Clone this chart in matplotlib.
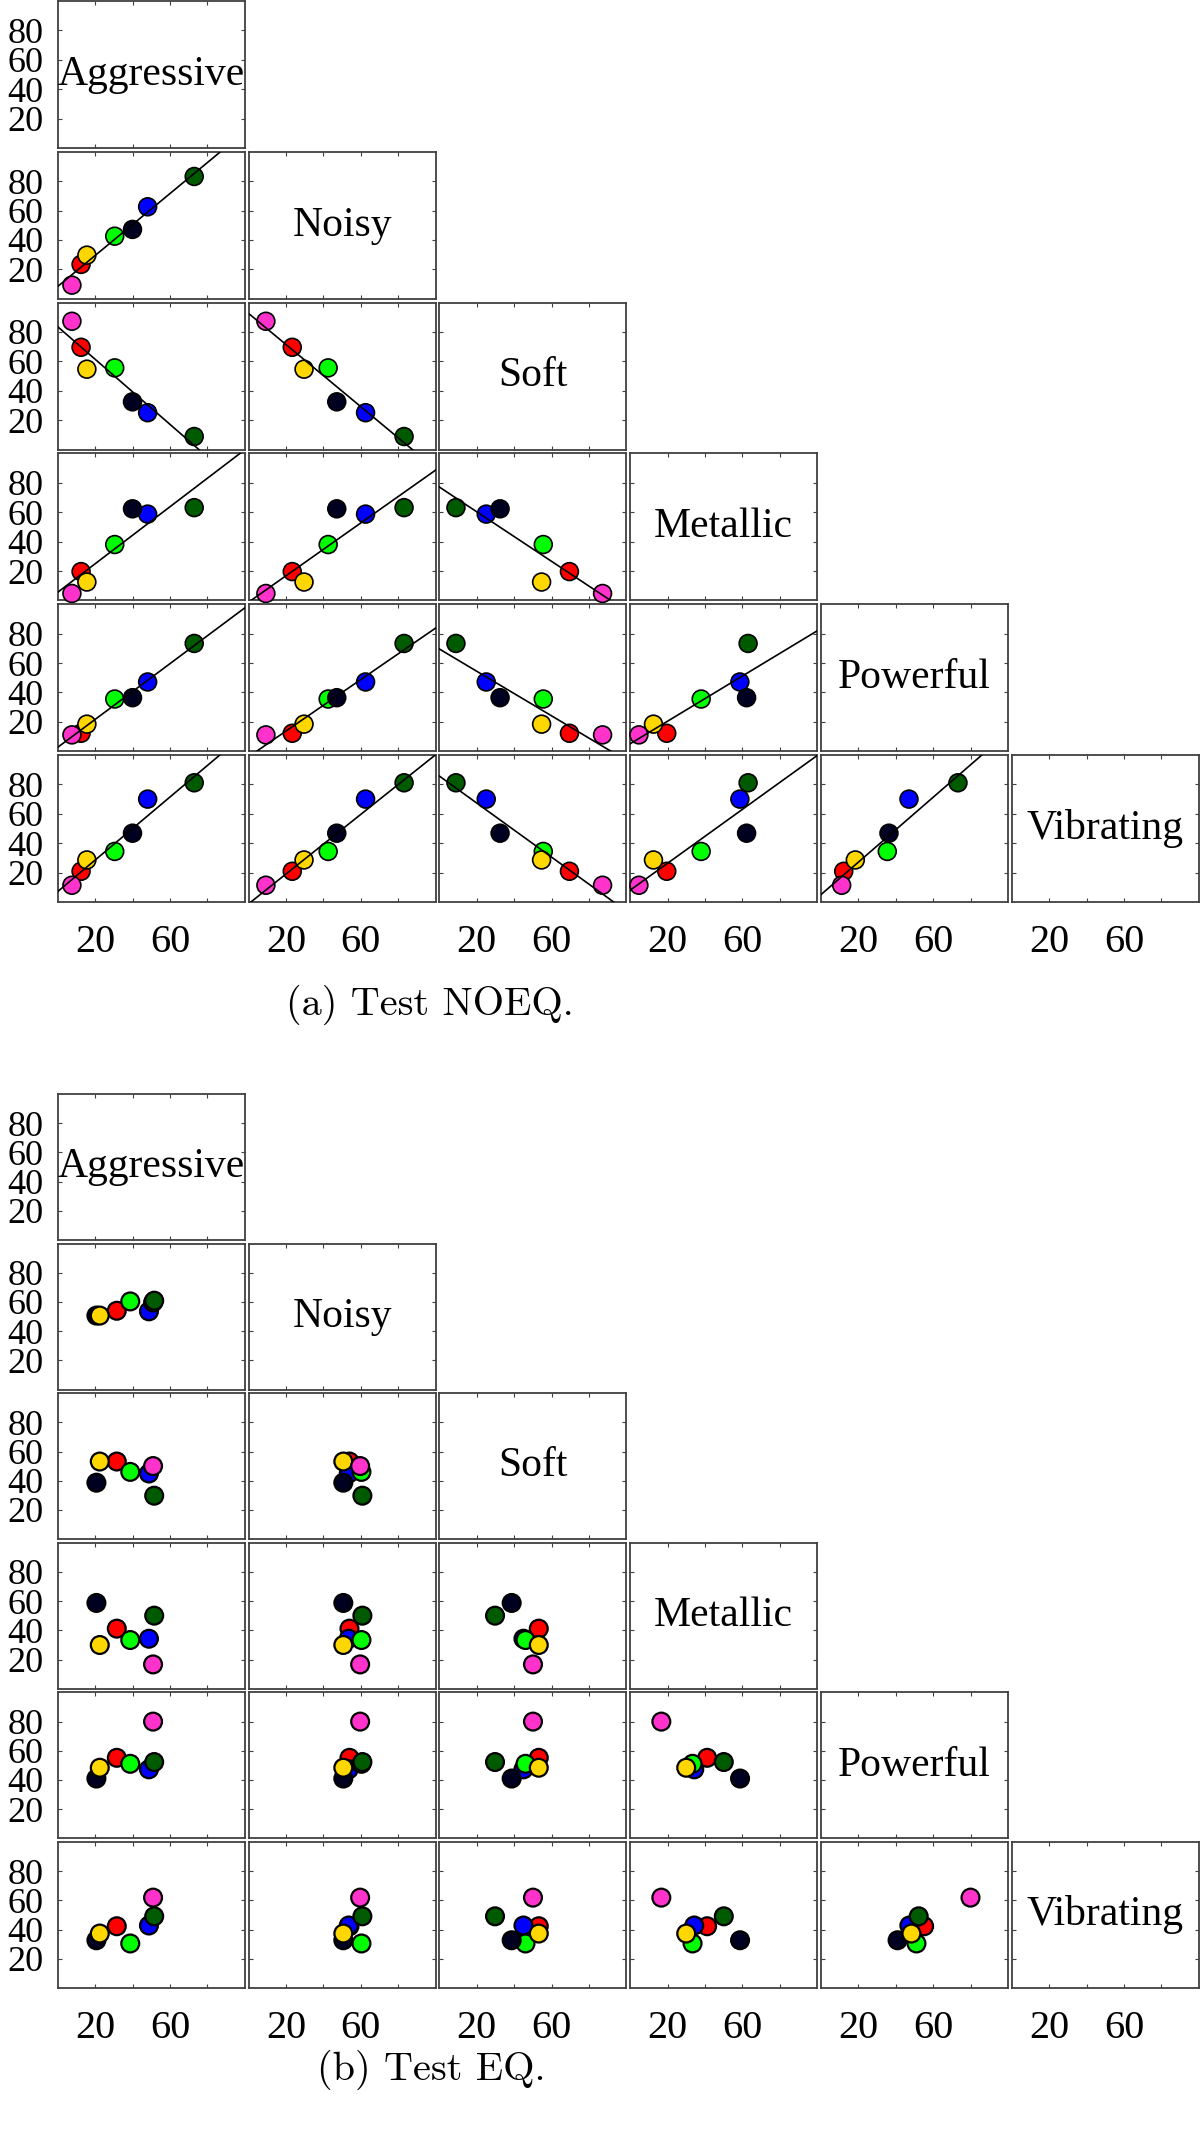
import numpy as np
import matplotlib.pyplot as plt

# attribute names (diagonal of the scatter matrix)
attributes = ['Aggressive', 'Noisy', 'Soft', 'Metallic', 'Powerful', 'Vibrating']

# one point per sample, listed in drawing order
point_colors = ['#ff0000', '#0000ff', '#00ff00', '#000020', '#ffd700', '#ff33cc', '#005a00']

# Test NOEQ ratings
noeq_aggressive = [12.5, 48.1, 30.5, 40.0, 15.6, 7.6, 73.0]
noeq_noisy = [23.4, 62.6, 42.6, 47.2, 29.7, 9.3, 83.2]
noeq_soft = [69.6, 25.1, 55.6, 32.5, 54.7, 87.3, 8.9]
noeq_metallic = [19.6, 58.7, 38.0, 62.3, 12.5, 4.7, 63.1]
noeq_powerful = [12.2, 47.1, 35.5, 36.4, 18.4, 11.1, 73.3]
noeq_vibrating = [20.9, 70.0, 34.4, 46.8, 28.6, 11.4, 81.1]

# Test EQ ratings
eq_aggressive = [31.6, 48.8, 38.8, 20.7, 22.5, 51.0, 51.6]
eq_noisy = [54.0, 53.6, 60.4, 50.7, 50.7, 59.7, 60.9]
eq_soft = [53.2, 45.0, 46.1, 38.7, 53.2, 50.1, 29.8]
eq_metallic = [41.2, 34.3, 33.4, 58.8, 30.0, 16.7, 50.1]
eq_powerful = [55.2, 47.3, 51.1, 41.0, 48.4, 80.0, 52.3]
eq_vibrating = [42.3, 42.8, 30.5, 32.7, 37.3, 61.9, 49.1]

tick_values = [20, 40, 60, 80]
x_tick_labels = ['20', '', '60', '']
y_tick_labels = ['20', '40', '60', '80']

W, H = 1200, 2135
fig = plt.figure(figsize=(W / 100, H / 100), dpi=100)

serif = 'Liberation Serif'
frame_color = '#404040'


def draw_matrix(data, top_px, row_step, height_px, edge_lw, fit_line):
    n = len(attributes)
    for i in range(n):
        for j in range(i + 1):
            left = 57.7 + j * 190.8
            top = top_px + i * row_step
            ax = fig.add_axes([left / W, 1 - (top + height_px) / H, 187 / W, height_px / H])
            ax.set_xlim(0, 100)
            ax.set_ylim(0, 100)
            ax.set_xticks(tick_values)
            ax.set_yticks(tick_values)
            ax.tick_params(direction='in', length=3, width=0.8, color=frame_color,
                           top=True, right=True)
            ax.tick_params(axis='y', pad=10)
            ax.tick_params(axis='x', pad=16)
            for sp in ax.spines.values():
                sp.set_color(frame_color)
                sp.set_linewidth(1.3)

            if j == 0:
                ax.set_yticklabels(y_tick_labels, fontsize=26, family=serif)
            else:
                ax.set_yticklabels([])
            if i == n - 1:
                ax.set_xticklabels(x_tick_labels, fontsize=29, family=serif)
            else:
                ax.set_xticklabels([])

            if i == j:
                ax.text(0.5, 0.5, attributes[i], transform=ax.transAxes,
                        ha='center', va='center', fontsize=30, family=serif)
                continue

            xs = np.array(data[attributes[j]])
            ys = np.array(data[attributes[i]])
            ax.scatter(xs, ys, s=165, c=point_colors, edgecolors='black',
                       linewidths=edge_lw, zorder=3, clip_on=False)
            if fit_line:
                slope, intercept = np.polyfit(xs, ys, 1)
                xl = np.array([0, 100])
                ax.plot(xl, slope * xl + intercept, color='black', lw=1.2, zorder=4)


noeq = dict(zip(attributes, [noeq_aggressive, noeq_noisy, noeq_soft,
                             noeq_metallic, noeq_powerful, noeq_vibrating]))
eq = dict(zip(attributes, [eq_aggressive, eq_noisy, eq_soft,
                           eq_metallic, eq_powerful, eq_vibrating]))

draw_matrix(noeq, 1, 150.8, 147, 1.2, True)
draw_matrix(eq, 1094, 149.6, 146, 1.6, False)

fig.text(430 / W, 1 - 1005 / H, '(a) Test NOEQ.', ha='center', va='center',
         fontsize=29, family='cmr10')
fig.text(431 / W, 1 - 2070 / H, '(b) Test EQ.', ha='center', va='center',
         fontsize=29, family='cmr10')

fig.savefig('out.png', dpi=100)
